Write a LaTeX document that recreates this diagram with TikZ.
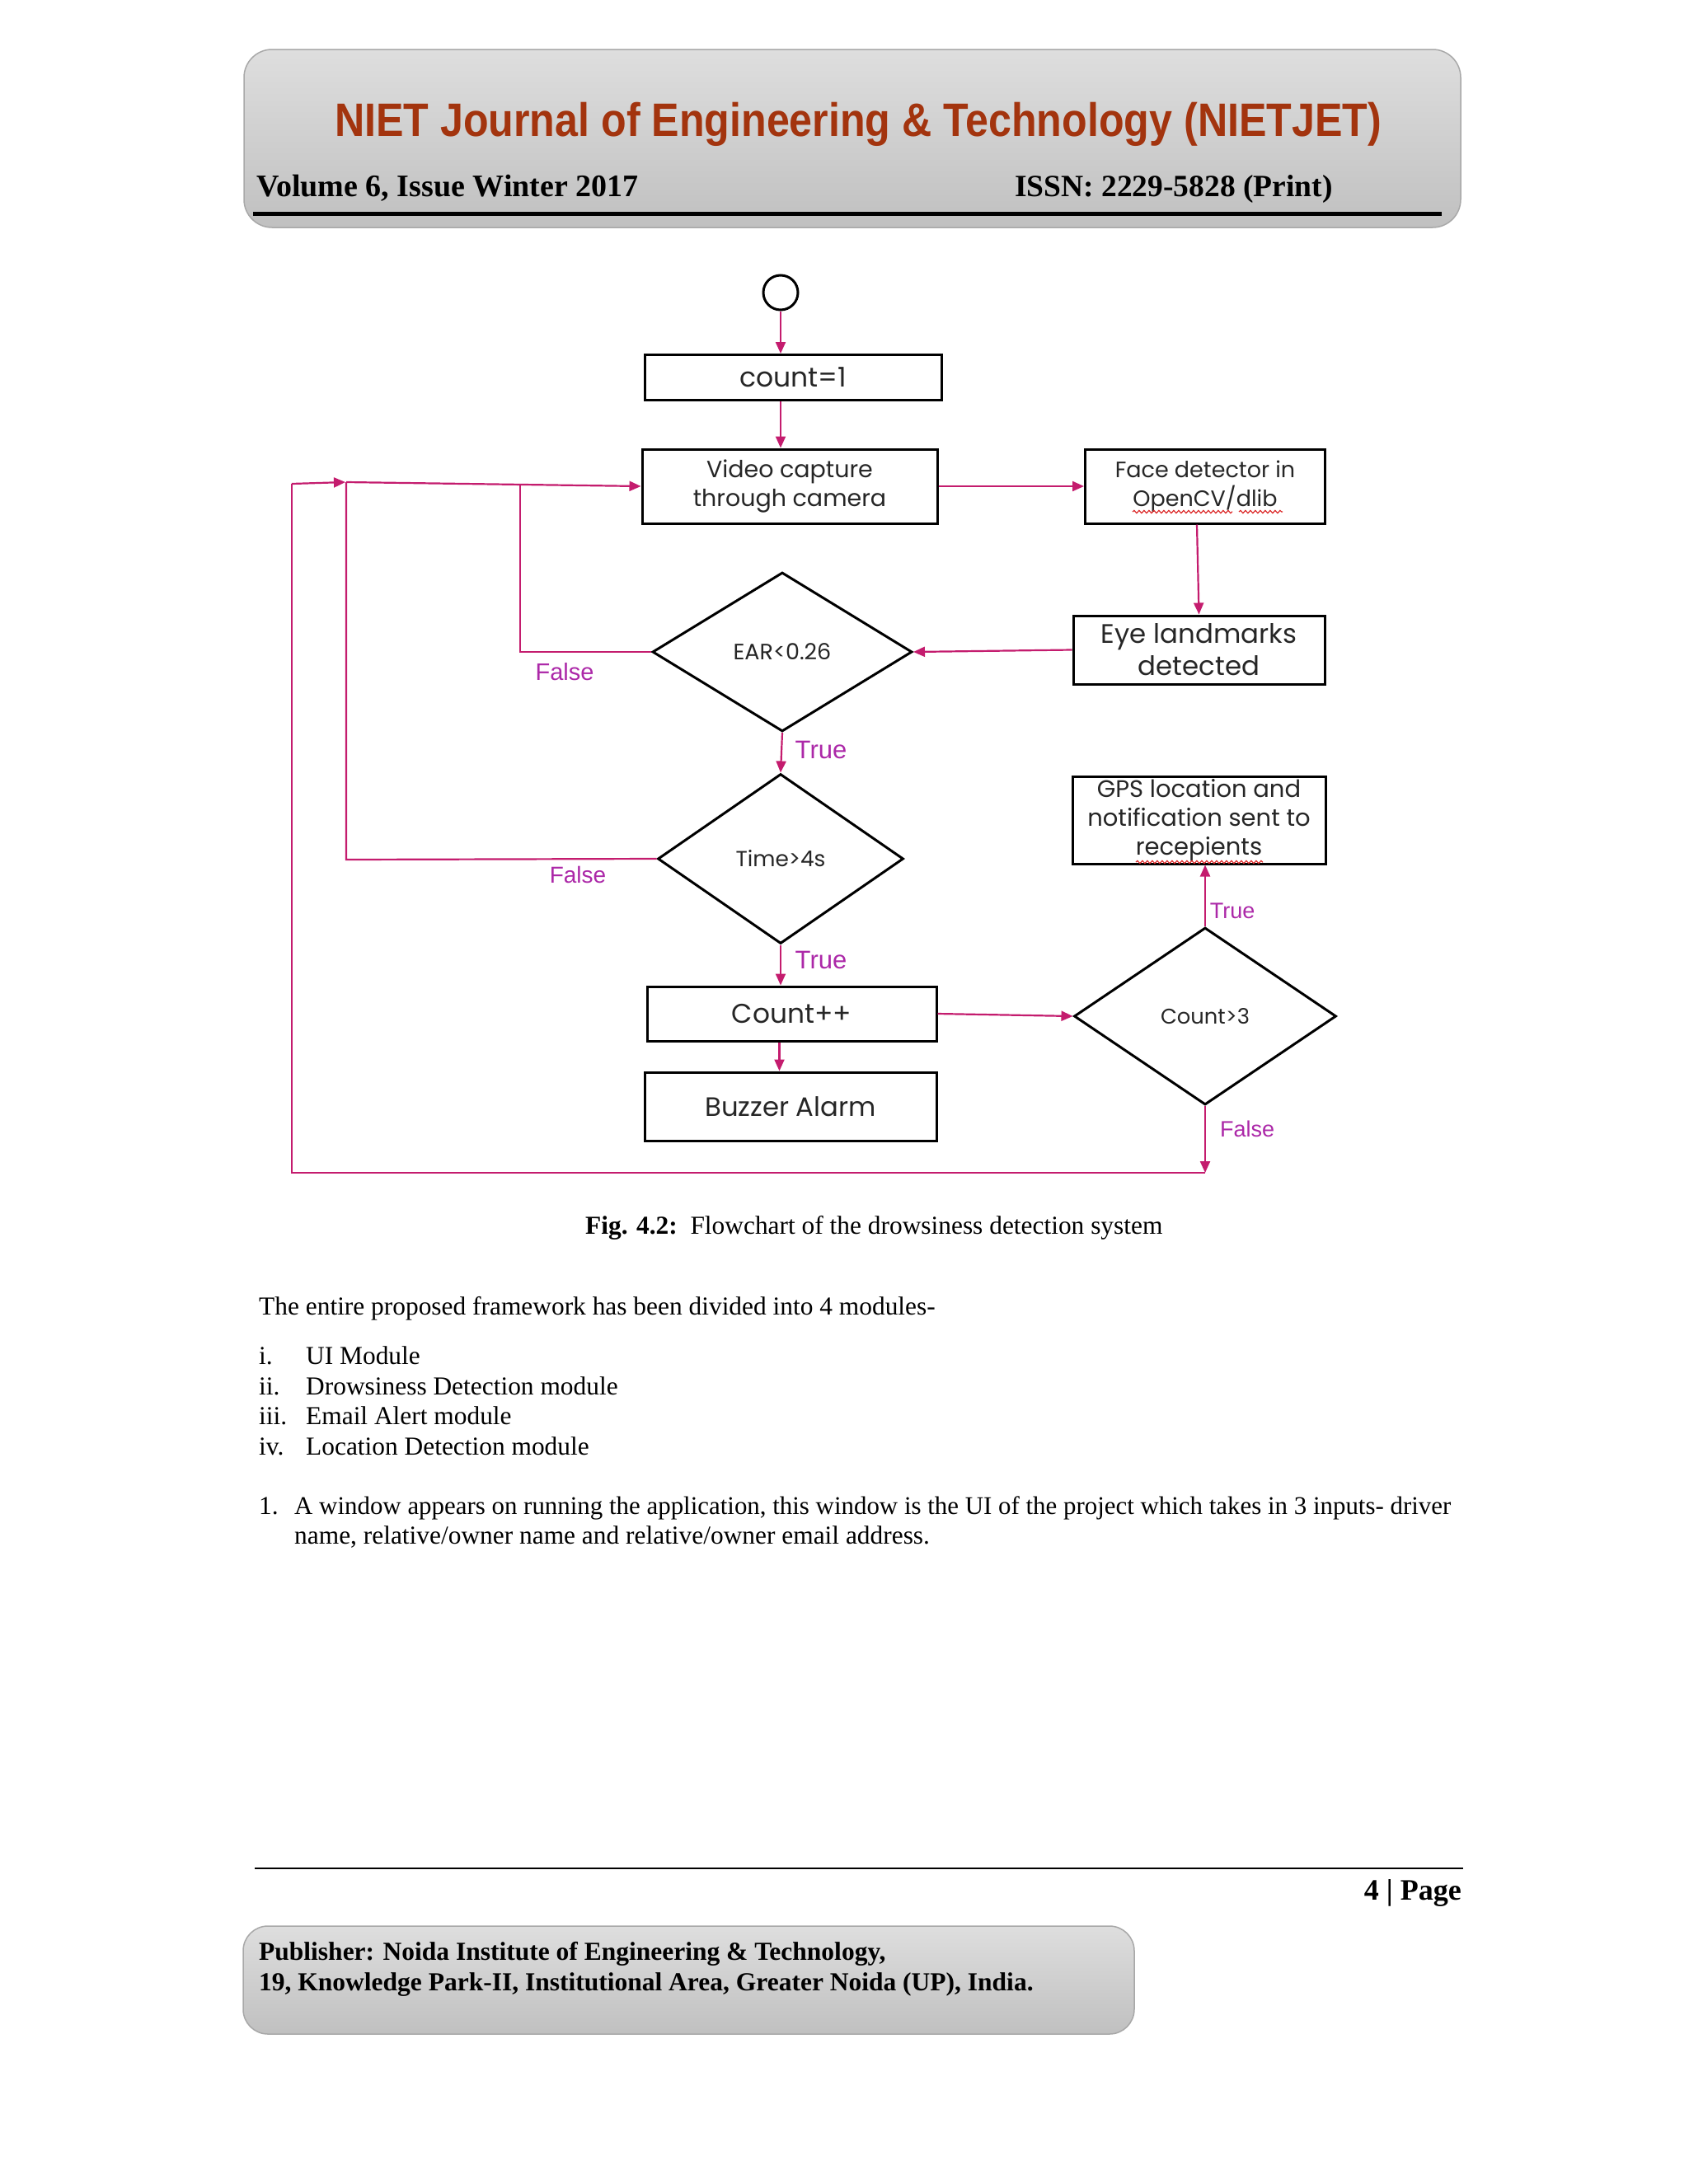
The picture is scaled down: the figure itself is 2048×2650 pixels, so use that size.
\documentclass[tikz,border=0pt]{standalone}
\usepackage{fontspec}
\setmainfont{Liberation Serif}
\newfontfamily\titlefont[FakeStretch=0.88]{Liberation Sans}
\newfontfamily\gothic{Poppins}
\newfontfamily\labelfont{Liberation Sans}
\usetikzlibrary{shapes.geometric,arrows.meta,decorations.pathmorphing}
\definecolor{titlebrown}{RGB}{163,52,14}
\definecolor{flowline}{RGB}{196,28,110}
\definecolor{flowlabel}{RGB}{172,40,168}
\definecolor{boxtop}{RGB}{222,222,222}
\definecolor{boxbot}{RGB}{192,192,192}
\definecolor{boxedge}{RGB}{168,168,168}
\definecolor{squiggle}{RGB}{220,40,40}
\begin{document}
\begin{tikzpicture}[x=1pt,y=-1pt,
  flowbox/.style={draw=black,line width=3pt,rectangle,inner sep=0pt,align=center,text=black!85},
  decision/.style={draw=black,line width=3pt,diamond,inner sep=0pt,text=black!85},
  conn/.style={draw=flowline,line width=2.2pt},
  arr/.style={conn,-{Triangle[length=14pt,width=12pt]}},
  flabel/.style={text=flowlabel,inner sep=0pt},
  bodytext/.style={anchor=base west,inner sep=0pt,font=\fontsize{31.4}{36}\selectfont},
  wavy/.style={draw=squiggle,line width=1.2pt,decorate,decoration={snake,amplitude=1.6pt,segment length=6pt}}
]
\useasboundingbox (0,0) rectangle (2048,2650);
\fill[white] (0,0) rectangle (2048,2650);

% ---------- header ----------
\shade[top color=boxtop,bottom color=boxbot,draw=boxedge,line width=1.5pt,rounded corners=34pt] (296,60) rectangle (1772,276);
\node[anchor=base,inner sep=0pt,text=titlebrown,font=\titlefont\bfseries\fontsize{57}{60}\selectfont] (title) at (1041,165) {NIET Journal of Engineering \& Technology (NIETJET)};
\node[anchor=base west,inner sep=0pt,font=\bfseries\fontsize{38}{42}\selectfont] (vol) at (311,238) {Volume 6, Issue Winter 2017};
\node[anchor=base west,inner sep=0pt,font=\bfseries\fontsize{37.5}{42}\selectfont] (issn) at (1231,238) {ISSN: 2229-5828 (Print)};
\draw[line width=5pt] (307,259.5) -- (1749,259.5);

% ---------- flowchart nodes ----------
\node[draw=black,line width=3pt,circle,minimum size=42pt,inner sep=0pt] (start) at (947,355) {};
\node[flowbox,minimum width=360pt,minimum height=55pt,font=\gothic\fontsize{33}{36}\selectfont] (cnt) at (962,458) {count=1};
\node[flowbox,minimum width=358pt,minimum height=90pt,font=\gothic\fontsize{28.5}{35}\selectfont] (video) at (958,590) {Video capture\\through camera};
\node[flowbox,minimum width=291pt,minimum height=90pt,font=\gothic\fontsize{27}{35}\selectfont] (face) at (1462,590) {Face detector in\\OpenCV/dlib};
\node[flowbox,minimum width=305pt,minimum height=83pt,font=\gothic\fontsize{32.4}{39}\selectfont] (eye) at (1454.5,788.5) {Eye landmarks\\detected};
\node[flowbox,minimum width=307pt,minimum height=106pt,font=\gothic\fontsize{29}{35}\selectfont] (gps) at (1454.5,995) {GPS location and\\notification sent to\\recepients};
\node[decision,minimum width=315pt,minimum height=193pt,font=\gothic\fontsize{27}{30}\selectfont] (ear) at (949,791) {EAR<0.26};
\node[decision,minimum width=298pt,minimum height=206pt,font=\gothic\fontsize{26.4}{30}\selectfont] (time) at (947,1042) {Time>4s};
\node[decision,minimum width=318pt,minimum height=215pt,font=\gothic\fontsize{25.8}{30}\selectfont] (cthree) at (1462,1233) {Count>3};
\node[flowbox,minimum width=351pt,minimum height=66pt,font=\gothic\fontsize{32.8}{36}\selectfont] (cpp) at (960.5,1230) {Count++};
\node[flowbox,minimum width=354pt,minimum height=83pt,font=\gothic\fontsize{32.3}{36}\selectfont] (buzz) at (959,1342.5) {Buzzer Alarm};

% spelling squiggles
\draw[wavy] (1374,621) -- (1495,621);
\draw[wavy] (1503,621) -- (1556,621);
\draw[wavy] (1378,1046) -- (1532,1046);

% ---------- connectors ----------
\coordinate (loopA) at (354,587);
\coordinate (loopAend) at (419,585);
\coordinate (loopB) at (420,585);
\coordinate (earbend) at (631,791);
\coordinate (eartop) at (631,587);
\coordinate (timebend) at (420,1043);
\coordinate (bottomR) at (1462,1423);
\coordinate (bottomL) at (354,1423);

\draw[arr] (start.south) -- (start.south |- cnt.north);
\draw[arr] (start.south |- cnt.south) -- (start.south |- video.north);
\draw[arr] (video.east) -- (face.west);
\draw[arr] ([xshift=-10pt]face.south) -- (eye.north);
\draw[arr] (eye.west) -- (ear.east);
\draw[arr] (ear.south) -- (time.north);
\draw[arr] (time.south) -- (time.south |- cpp.north);
\draw[arr] ([xshift=-15pt]cpp.south) -- ([xshift=-15pt]cpp.south |- buzz.north);
\draw[arr] (cpp.east) -- (cthree.west);
\draw[arr] (cthree.north) -- (cthree.north |- gps.south);
\draw[arr] (cthree.south) -- (bottomR);
\draw[conn] (bottomR) -- (bottomL) -- (loopA);
\draw[arr] (loopA) -- (loopAend);
\draw[arr] (loopB) -- (video.west);
\draw[conn] (ear.west) -- (earbend) -- (eartop);
\draw[conn] (time.west) -- (timebend) -- (loopB);

% ---------- flow labels ----------
\node[flabel,font=\labelfont\fontsize{29}{32}\selectfont] (fEar) at (685,815) {False};
\node[flabel,font=\labelfont\fontsize{31}{34}\selectfont] (tEar) at (996,910) {True};
\node[flabel,font=\labelfont\fontsize{28}{32}\selectfont] (fTime) at (701,1061) {False};
\node[flabel,font=\labelfont\fontsize{31}{34}\selectfont] (tTime) at (996,1165) {True};
\node[flabel,font=\labelfont\fontsize{27}{30}\selectfont] (tC3) at (1495,1105) {True};
\node[flabel,font=\labelfont\fontsize{27}{30}\selectfont] (fC3) at (1513,1370) {False};

% ---------- caption and body ----------
\node[anchor=base west,inner sep=0pt,font=\fontsize{31.4}{36}\selectfont] (cap) at (710,1497) {\textbf{Fig. 4.2:}\ \ Flowchart of the drowsiness detection system};
\node[bodytext] (intro) at (314,1595) {The entire proposed framework has been divided into 4 modules-};
\node[bodytext] (n1) at (314,1655) {i.};
\node[bodytext] (t1) at (371,1655) {UI Module};
\node[bodytext] (n2) at (314,1692) {ii.};
\node[bodytext] (t2) at (371,1692) {Drowsiness Detection module};
\node[bodytext] (n3) at (314,1728) {iii.};
\node[bodytext] (t3) at (371,1728) {Email Alert module};
\node[bodytext] (n4) at (314,1765) {iv.};
\node[bodytext] (t4) at (371,1765) {Location Detection module};
\node[bodytext] (p1n) at (314,1837) {1.};
\node[bodytext,font=\fontsize{30.9}{36}\selectfont] (p1a) at (357,1837) {A window appears on running the application, this window is the UI of the project which takes in 3 inputs- driver};
\node[bodytext] (p1b) at (357,1873) {name, relative/owner name and relative/owner email address.};

% ---------- footer ----------
\draw[line width=2.5pt] (309,2267) -- (1775,2267);
\node[anchor=base east,inner sep=0pt,font=\bfseries\fontsize{36}{40}\selectfont] (page) at (1773,2305) {4 | Page};
\shade[top color=boxtop,bottom color=boxbot,draw=boxedge,line width=1.5pt,rounded corners=30pt] (295,2337) rectangle (1376,2468);
\node[anchor=base west,inner sep=0pt,font=\bfseries\fontsize{31.5}{36}\selectfont] (pub1) at (314,2378) {Publisher: Noida Institute of Engineering \& Technology,};
\node[anchor=base west,inner sep=0pt,font=\bfseries\fontsize{31.5}{36}\selectfont] (pub2) at (314,2415) {19, Knowledge Park-II, Institutional Area, Greater Noida (UP), India.};
\end{tikzpicture}
\end{document}
